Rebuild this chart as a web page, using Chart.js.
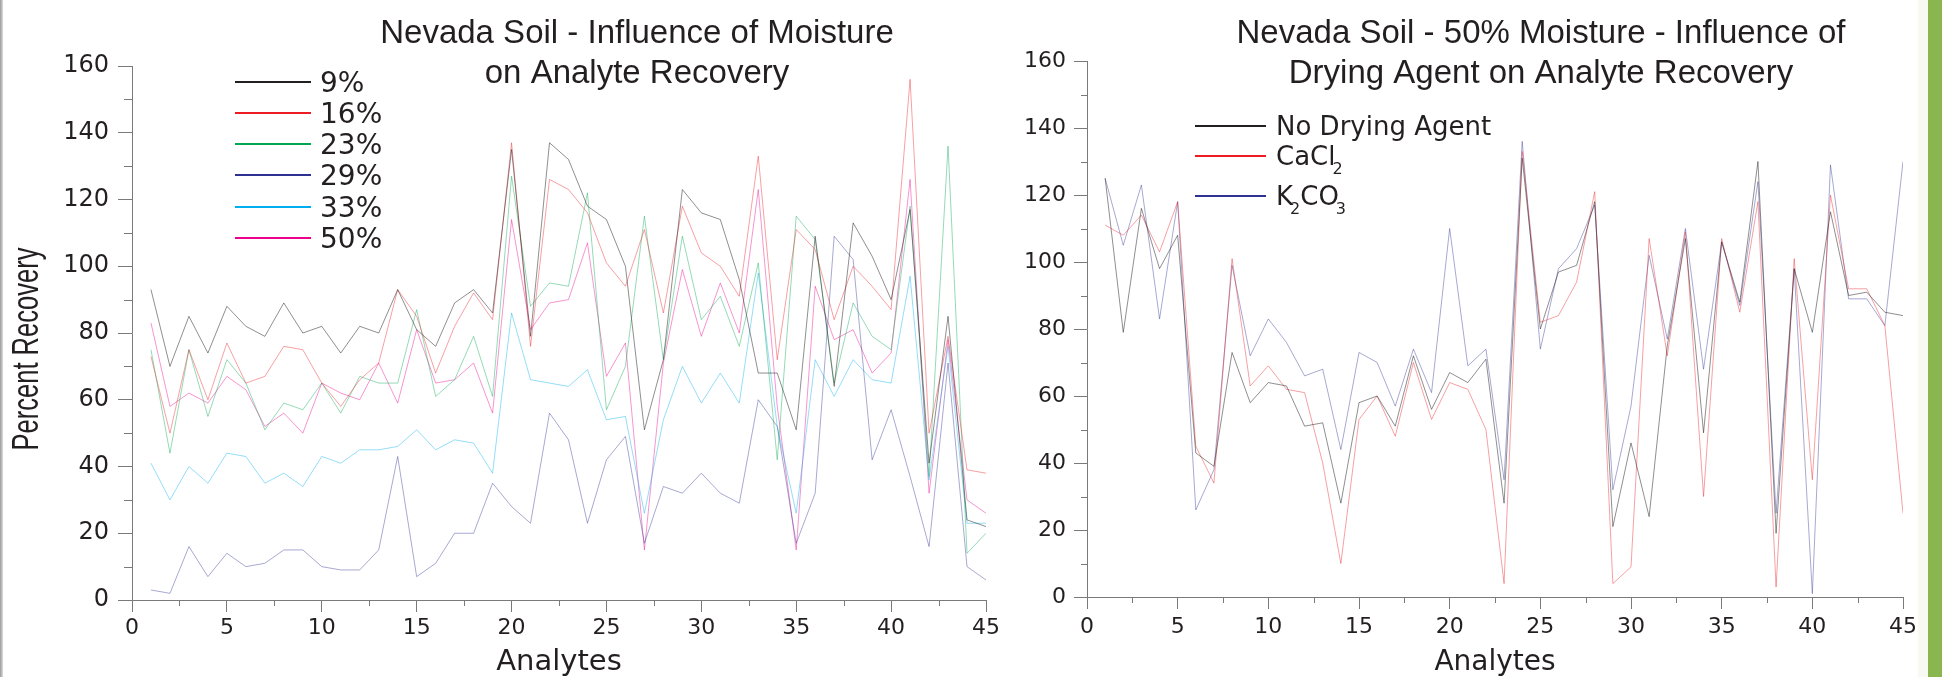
<!DOCTYPE html>
<html>
<head>
<meta charset="utf-8">
<title>Nevada Soil - Analyte Recovery</title>
<script src="https://cdn.jsdelivr.net/npm/chart.js@4.4.1/dist/chart.umd.min.js"></script>
<style>
  html, body { margin: 0; padding: 0; background: #fff; overflow: hidden; }
  body { width: 1942px; height: 677px; position: relative; }
  #moistureChart { position: absolute; left: 0; top: 0; }
  #agentChart { position: absolute; left: 1000px; top: 0; }
  .edge-left { position: absolute; left: 0; top: 0; width: 3px; height: 677px; background: linear-gradient(to right, #9a9a9a, #dcdcdc); }
  .edge-glow { position: absolute; left: 1918px; top: 0; width: 10px; height: 677px; background: #f7f9f2; }
  .edge-right { position: absolute; left: 1928px; top: 0; width: 14px; height: 677px; background: #8ab650; }
</style>
</head>
<body>
<canvas id="moistureChart" width="1010" height="677"></canvas>
<canvas id="agentChart" width="942" height="677"></canvas>
<div class="edge-left"></div>
<div class="edge-glow"></div>
<div class="edge-right"></div>
<script>
// analyte numbers (x axis)
const analytes = [1, 2, 3, 4, 5, 6, 7, 8, 9, 10, 11, 12, 13, 14, 15, 16, 17, 18, 19, 20,
  21, 22, 23, 24, 25, 26, 27, 28, 29, 30, 31, 32, 33, 34, 35, 36, 37, 38, 39, 40,
  41, 42, 43, 44, 45];

// left panel: percent recovery at each soil moisture
const moistureLabels = ['9%', '16%', '23%', '29%', '33%', '50%'];
const moist9 = [93, 70, 85, 74, 88, 82, 79, 89, 80, 82, 74, 82, 80, 93, 81, 76, 89, 93, 86, 135,
  79, 137, 132, 118, 114, 100, 51, 72, 123, 116, 114, 96, 68, 68, 51, 109, 64, 113, 103, 90,
  117, 41, 85, 24, 22];
const moist16 = [73, 50, 75, 60, 77, 65, 67, 76, 75, 65, 58, 66, 71, 93, 85, 68, 82, 92, 84, 137,
  76, 126, 123, 116, 101, 94, 111, 86, 118, 104, 100, 91, 133, 72, 111, 105, 84, 100, 94, 87,
  156, 50, 79, 39, 38];
const moist23 = [75, 44, 75, 55, 72, 65, 51, 59, 57, 65, 56, 67, 65, 65, 87, 61, 66, 79, 61, 127,
  88, 95, 94, 122, 57, 70, 115, 72, 109, 84, 91, 76, 101, 42, 115, 108, 65, 89, 79, 75,
  118, 37, 136, 14, 20];
const moist29 = [3, 2, 16, 7, 14, 10, 11, 15, 15, 10, 9, 9, 15, 43, 7, 11, 20, 20, 35, 28,
  23, 56, 48, 23, 42, 49, 17, 34, 32, 38, 32, 29, 60, 52, 17, 32, 109, 102, 42, 57,
  37, 16, 71, 10, 6];
const moist33 = [41, 30, 40, 35, 44, 43, 35, 38, 34, 43, 41, 45, 45, 46, 51, 45, 48, 47, 38, 86,
  66, 65, 64, 69, 54, 55, 26, 54, 70, 59, 68, 59, 98, 52, 26, 72, 61, 72, 66, 65,
  97, 36, 76, 23, 23];
const moist50 = [83, 58, 62, 59, 67, 63, 52, 56, 50, 65, 62, 60, 71, 59, 81, 65, 66, 71, 56, 114,
  81, 89, 90, 107, 67, 77, 15, 71, 99, 79, 95, 80, 123, 58, 15, 94, 78, 81, 68, 74,
  126, 32, 78, 30, 26];

// right panel: 50% moisture with different drying agents
const agentLabels = ['No Drying Agent', 'CaCl₂', 'K₂CO₃'];
const noAgent = [125, 79, 116, 98, 108, 43, 39, 73, 58, 64, 63, 51, 52, 28, 58, 60, 51, 72, 56, 67,
  64, 71, 28, 131, 80, 97, 99, 118, 21, 46, 24, 75, 107, 49, 106, 88, 130, 19, 98, 79,
  115, 90, 91, 85, 84];
const cacl2 = [111, 108, 114, 103, 118, 45, 34, 101, 63, 69, 62, 61, 40, 10, 53, 60, 48, 70, 53, 64,
  62, 50, 4, 133, 82, 84, 94, 121, 4, 9, 107, 72, 109, 30, 107, 85, 118, 3, 101, 35,
  120, 92, 92, 81, 25];
const k2co3 = [125, 105, 123, 83, 118, 26, 38, 99, 72, 83, 76, 66, 68, 44, 73, 70, 57, 74, 61, 110,
  69, 74, 35, 136, 74, 98, 104, 117, 32, 57, 102, 77, 110, 68, 106, 87, 124, 25, 98, 1,
  129, 89, 89, 81, 130];

// axis tick labels
const xTickValues = [0, 5, 10, 15, 20, 25, 30, 35, 40, 45];
const yTickValues = [0, 20, 40, 60, 80, 100, 120, 140, 160];

const TEXT = '#231f20';
const AXIS = '#7a7a7a';
const SANS = '"Liberation Sans", Arial, sans-serif';
const WIDE = '"DejaVu Sans", sans-serif';

// legend colours are solid, the traces are thin and pale
const moistureColors = [[35, 31, 32], [237, 28, 36], [0, 166, 81], [46, 49, 146], [0, 174, 239], [236, 0, 140]];
const agentColors = [[35, 31, 32], [237, 28, 36], [46, 49, 146]];

const rgb = (c, a) => a === undefined ? `rgb(${c.join(',')})` : `rgba(${c.join(',')},${a})`;

function series(label, values, color, alpha) {
    return {
        label: label,
        data: analytes.map((a, i) => ({ x: a, y: values[i] })),
        borderColor: rgb(color, alpha),
        legendColor: rgb(color),
        borderWidth: 1,
        pointRadius: 0,
        tension: 0,
        fill: false
    };
}

// half-way tick marks between the labelled ones
const minorTicks = {
    id: 'minorTicks',
    afterDraw(chart, args, o) {
        const { ctx, chartArea: a } = chart;
        const xs = chart.scales.x, ys = chart.scales.y;
        ctx.save();
        ctx.strokeStyle = o.color;
        ctx.lineWidth = 1;
        ctx.beginPath();
        for (let i = 1; i < xs.ticks.length; i++) {
            const px = Math.round(xs.getPixelForValue((xs.ticks[i - 1].value + xs.ticks[i].value) / 2)) + 0.5;
            ctx.moveTo(px, a.bottom);
            ctx.lineTo(px, a.bottom + o.xLength);
        }
        for (let i = 1; i < ys.ticks.length; i++) {
            const py = Math.round(ys.getPixelForValue((ys.ticks[i - 1].value + ys.ticks[i].value) / 2)) + 0.5;
            ctx.moveTo(a.left, py);
            ctx.lineTo(a.left - o.yLength, py);
        }
        ctx.stroke();
        ctx.restore();
    }
};

// two line heading that may overlap the plot area
const panelTitle = {
    id: 'panelTitle',
    afterDraw(chart, args, o) {
        const ctx = chart.ctx;
        ctx.save();
        ctx.font = o.font;
        ctx.fillStyle = o.color;
        ctx.textAlign = 'center';
        ctx.textBaseline = 'alphabetic';
        o.lines.forEach((line, i) => ctx.fillText(line, o.centerX, o.baselines[i]));
        ctx.restore();
    }
};

// legend drawn inside the plot, with subscript digits
const lineLegend = {
    id: 'lineLegend',
    afterDraw(chart, args, o) {
        const ctx = chart.ctx;
        const subs = '₀₁₂₃₄₅₆₇₈₉';
        ctx.save();
        ctx.textBaseline = 'alphabetic';
        ctx.textAlign = 'left';
        chart.data.datasets.forEach((ds, i) => {
            const y = o.rows[i];
            ctx.strokeStyle = ds.legendColor;
            ctx.lineWidth = o.lineWidth;
            ctx.beginPath();
            ctx.moveTo(o.x1, y);
            ctx.lineTo(o.x2, y);
            ctx.stroke();
            ctx.fillStyle = o.color;
            let x = o.textX;
            const base = y + o.baselineShift;
            for (const ch of ds.label) {
                const k = subs.indexOf(ch);
                if (k >= 0) {
                    ctx.font = o.subFont;
                    ctx.fillText(String(k), x + o.subKern, base + o.subDrop);
                    x += ctx.measureText(String(k)).width + o.subKern;
                } else {
                    ctx.font = o.font;
                    ctx.fillText(ch, x, base);
                    x += ctx.measureText(ch).width;
                }
            }
        });
        ctx.restore();
    }
};

// narrow, rotated y axis heading
const squeezedTitle = {
    id: 'squeezedTitle',
    afterDraw(chart, args, o) {
        if (!o.text) return;
        const ctx = chart.ctx;
        ctx.save();
        ctx.font = o.font;
        ctx.fillStyle = o.color;
        const w = ctx.measureText(o.text).width;
        ctx.translate(o.x, o.centerY);
        ctx.rotate(-Math.PI / 2);
        ctx.scale(o.length / w, 1);
        ctx.textAlign = 'center';
        ctx.textBaseline = 'alphabetic';
        ctx.fillText(o.text, 0, 0);
        ctx.restore();
    }
};

function makePanel(canvas, datasets, p) {
    return new Chart(canvas, {
        type: 'line',
        data: { datasets: datasets },
        plugins: [minorTicks, panelTitle, lineLegend, squeezedTitle],
        options: {
            responsive: false,
            animation: false,
            events: [],
            layout: { padding: { left: 0, right: p.padRight, top: p.padTop, bottom: 0 } },
            scales: {
                x: {
                    type: 'linear',
                    min: 0,
                    max: 45,
                    afterBuildTicks: s => { s.ticks = xTickValues.map(v => ({ value: v })); },
                    afterFit: s => { s.height = p.xHeight; },
                    grid: { drawOnChartArea: false, drawTicks: true, tickLength: 12, color: AXIS },
                    border: { display: true, color: AXIS, width: 1 },
                    ticks: {
                        padding: p.xPad,
                        color: TEXT,
                        maxRotation: 0,
                        autoSkip: false,
                        font: { family: WIDE, size: 22 }
                    },
                    title: {
                        display: true,
                        text: 'Analytes',
                        color: TEXT,
                        padding: 0,
                        font: { family: WIDE, size: p.xTitleSize, lineHeight: 1.0 }
                    }
                },
                y: {
                    type: 'linear',
                    min: 0,
                    max: 160,
                    afterBuildTicks: s => { s.ticks = yTickValues.map(v => ({ value: v })); },
                    afterFit: s => { s.width = p.yWidth; },
                    grid: { drawOnChartArea: false, drawTicks: true, tickLength: p.yTick, color: AXIS },
                    border: { display: true, color: AXIS, width: 1 },
                    ticks: {
                        padding: p.yPad,
                        color: TEXT,
                        font: { family: WIDE, size: p.yFont }
                    }
                }
            },
            plugins: {
                legend: { display: false },
                tooltip: { enabled: false },
                minorTicks: { color: AXIS, xLength: 6, yLength: p.yMinor },
                panelTitle: {
                    lines: p.title,
                    centerX: p.titleX,
                    baselines: [43, 83],
                    font: '33px ' + SANS,
                    color: TEXT
                },
                lineLegend: p.legend,
                squeezedTitle: p.yTitle
            }
        }
    });
}

makePanel(document.getElementById('moistureChart'),
    [moist9, moist16, moist23, moist29, moist33, moist50].map((v, i) =>
        series(moistureLabels[i], v, moistureColors[i], i === 0 ? 0.5 : 0.42)),
    {
        padRight: 24, padTop: 66, xHeight: 77, yWidth: 132, xPad: 3,
        yTick: 14, yPad: 9, yFont: 24, yMinor: 8, xTitleSize: 29,
        title: ['Nevada Soil - Influence of Moisture', 'on Analyte Recovery'],
        titleX: 637,
        legend: {
            x1: 235, x2: 311, textX: 320, rows: [82, 113, 144, 175, 207, 238],
            font: '28px ' + WIDE, subFont: '16px ' + WIDE, subDrop: 9, subKern: 0,
            baselineShift: 10, lineWidth: 2, color: TEXT
        },
        yTitle: { text: 'Percent Recovery', font: '37px ' + SANS, color: TEXT, x: 38, centerY: 349, length: 203 }
    });

makePanel(document.getElementById('agentChart'),
    [noAgent, cacl2, k2co3].map((v, i) =>
        series(agentLabels[i], v, agentColors[i], i === 0 ? 0.5 : 0.42)),
    {
        padRight: 39, padTop: 61, xHeight: 80, yWidth: 87, xPad: 5,
        yTick: 13, yPad: 8, yFont: 22, yMinor: 6, xTitleSize: 28,
        title: ['Nevada Soil - 50% Moisture - Influence of', 'Drying Agent on Analyte Recovery'],
        titleX: 541,
        legend: {
            x1: 195, x2: 266, textX: 276, rows: [126, 156, 196],
            font: '26px ' + WIDE, subFont: '16px ' + WIDE, subDrop: 9, subKern: -3,
            baselineShift: 9, lineWidth: 2, color: TEXT
        },
        yTitle: { text: '' }
    });
</script>
</body>
</html>
